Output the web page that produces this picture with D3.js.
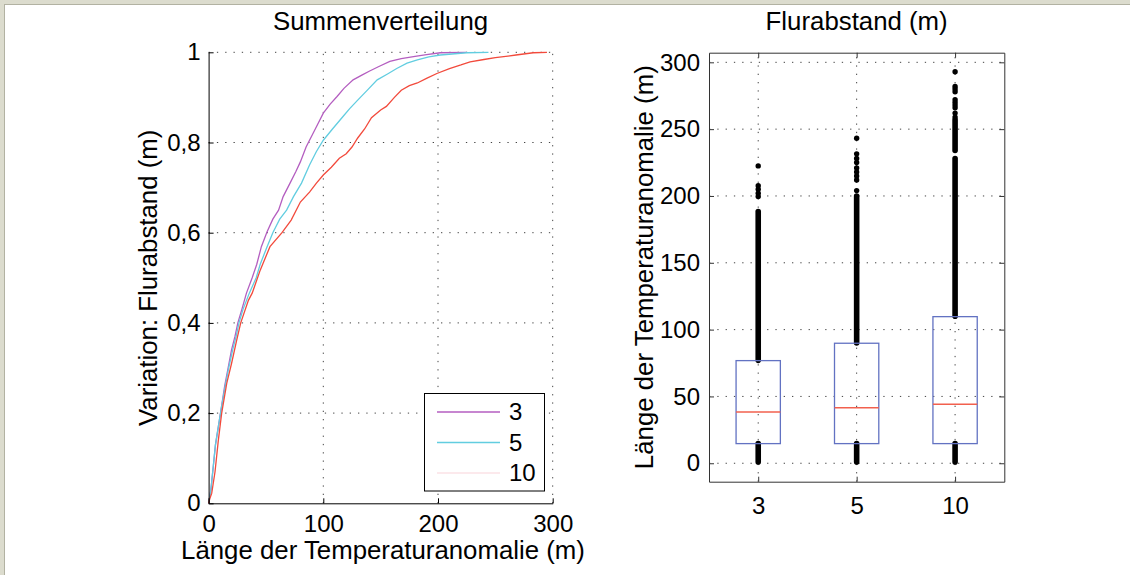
<!DOCTYPE html>
<html lang="de">
<head>
  <meta charset="UTF-8">
  <title>Summenverteilung / Flurabstand</title>
  <style>
    body { margin: 0; overflow: hidden; background: #dcdcce; }
    svg { display: block; font-family: "Liberation Sans", Arial, Helvetica, sans-serif; }
    .grid { stroke: #444; stroke-width: 1; stroke-dasharray: 1.3 7; fill: none; }
    .axis text { font-family: "Liberation Sans", Arial, sans-serif; font-size: 24px; fill: #000; }
    .axis-left path, .axis-left line { stroke: #000; }
    .axis-right path, .axis-right line { stroke: #333; }
    .title, .label { font-size: 25.8px; fill: #000; }
  </style>
</head>
<body>
  <script src="https://d3js.org/d3.v7.min.js"></script>
  <script>
    // --- Daten: Summenverteilung (Länge in m, kumulierter Anteil) ---
    const seriesNames = ["3", "5", "10"];
    const seriesColors = ["#b45ec0", "#62cde0", "#f24a3c"];
    const legendColors = ["#b45ec0", "#62cde0", "#fbe2e6"];

    const cdf3 = [
      [0, 0], [2, 0.03], [4, 0.08], [6, 0.13], [8.5, 0.17], [11, 0.21], [14, 0.26], [17, 0.3],
      [20, 0.34], [23, 0.37], [25.5, 0.4], [29, 0.43], [33, 0.466], [38, 0.5], [42, 0.53],
      [46, 0.569], [51, 0.602], [56, 0.63], [61, 0.65], [65, 0.68], [71, 0.71], [76, 0.735],
      [80, 0.757], [85, 0.79], [90, 0.815], [95, 0.84], [100, 0.865], [106, 0.885], [112, 0.902],
      [118, 0.92], [126, 0.939], [134, 0.95], [140, 0.958], [148, 0.968], [158, 0.98],
      [168, 0.986], [180, 0.991], [190, 0.995], [202, 0.999], [225, 1]
    ];
    const cdf5 = [
      [0, 0], [2, 0.03], [4, 0.08], [6, 0.13], [8.5, 0.17], [11, 0.21], [14.5, 0.26], [17.5, 0.3],
      [21, 0.34], [24, 0.37], [26.5, 0.4], [30, 0.43], [35.5, 0.466], [41.5, 0.5], [45, 0.53],
      [51, 0.569], [56, 0.6], [62, 0.63], [68, 0.65], [74, 0.68], [81, 0.71], [88, 0.75],
      [94, 0.78], [100, 0.805], [108, 0.83], [117, 0.857], [123, 0.875], [130, 0.894],
      [138, 0.915], [147, 0.939], [156, 0.952], [164, 0.964], [173, 0.976], [182, 0.983],
      [192, 0.99], [202, 0.994], [225, 0.999], [244, 1]
    ];
    const cdf10 = [
      [0, 0], [1, 0.01], [2.7, 0.022], [5.6, 0.07], [8.5, 0.14], [11.4, 0.2], [15.8, 0.266],
      [20, 0.31], [24.5, 0.362], [28, 0.4], [34.7, 0.45], [38, 0.466], [42, 0.495], [45, 0.517],
      [53.5, 0.569], [64, 0.6], [72, 0.628], [80, 0.668], [88, 0.69], [94, 0.71], [100, 0.728],
      [107, 0.745], [114, 0.765], [120, 0.775], [125, 0.79], [130, 0.81], [136, 0.83],
      [142, 0.855], [150, 0.872], [155, 0.88], [162, 0.9], [168, 0.916], [175, 0.926],
      [182, 0.932], [190, 0.942], [199, 0.953], [210, 0.964], [220, 0.972], [228, 0.979],
      [240, 0.984], [250, 0.988], [268, 0.994], [283, 0.999], [295, 1]
    ];
    const cdfSeries = [cdf3, cdf5, cdf10];

    const xTicksL = [0, 100, 200, 300];
    const yTicksL = [0, 0.2, 0.4, 0.6, 0.8, 1];

    // --- Daten: Boxplot ---
    const q1 = [14.7, 14.7, 14.7];
    const medians = [38.4, 41.6, 44.2];
    const q3 = [76.8, 89.8, 109.7];
    // dichte Ausreißerbereiche [von, bis]
    const outlierRuns = [
      [[1, 14.7], [77, 188.3]],
      [[1, 14.7], [90, 200]],
      [[1, 14.7], [110, 228], [234, 257]]
    ];
    const outlierPoints = [
      [199.6, 202, 205, 207.6, 222.5],
      [204, 212, 215, 218, 221, 225, 228, 231.5, 243.2],
      [259, 262, 266, 268, 270, 272, 278, 280, 282, 293]
    ];
    const yTicksR = [0, 50, 100, 150, 200, 250, 300];

    const width = 1130, height = 575;
    const svg = d3.select("body").append("svg").attr("width", width).attr("height", height);

    svg.append("rect").attr("width", width).attr("height", height).attr("fill", "#dcdcce");
    svg.append("rect").attr("x", 4.5).attr("y", 4.5).attr("width", width).attr("height", height)
      .attr("fill", "#fff").attr("stroke", "#b2b2a2");

    const de = d3.formatLocale({ decimal: ",", thousands: ".", grouping: [3], currency: ["", "€"] });
    const fmtDe = de.format(".1~f");

    // ================= linkes Diagramm =================
    const xL = d3.scaleLinear().domain([0, 300]).range([208.6, 552.7]);
    const yL = d3.scaleLinear().domain([0, 1]).range([503.3, 52.3]);
    const gL = svg.append("g");

    gL.append("g").selectAll("line").data(yTicksL.filter(v => v > 0)).join("line")
      .attr("class", "grid").attr("x1", xL(0)).attr("x2", xL(300))
      .attr("y1", d => yL(d)).attr("y2", d => yL(d));
    gL.append("g").selectAll("line").data(xTicksL.filter(v => v > 0)).join("line")
      .attr("class", "grid").attr("y1", yL(0)).attr("y2", yL(1))
      .attr("x1", d => xL(d)).attr("x2", d => xL(d));

    const line = d3.line().x(d => xL(d[0])).y(d => yL(d[1]));
    gL.append("g").selectAll("path").data(cdfSeries).join("path")
      .attr("d", line).attr("fill", "none")
      .attr("stroke", (d, i) => seriesColors[i]).attr("stroke-width", 1.3);

    const axLy = gL.append("g").attr("class", "axis axis-left")
      .attr("transform", `translate(${xL(0)},0)`)
      .call(d3.axisLeft(yL).tickValues(yTicksL).tickFormat(fmtDe).tickSizeInner(-5).tickSizeOuter(0).tickPadding(8));
    const axLx = gL.append("g").attr("class", "axis axis-left")
      .attr("transform", `translate(0,${yL(0)})`)
      .call(d3.axisBottom(xL).tickValues(xTicksL).tickSizeInner(-5).tickSizeOuter(0).tickPadding(12));
    [axLy, axLx].forEach(a => a.attr("font-size", null).attr("font-family", null));

    // Legende
    const lg = gL.append("g");
    lg.append("rect").attr("x", 424.5).attr("y", 393.5).attr("width", 120).attr("height", 97.5)
      .attr("fill", "#fff").attr("stroke", "#000");
    const legendY = d3.scalePoint().domain(seriesNames).range([412, 473]);
    lg.selectAll("line").data(seriesNames).join("line")
      .attr("x1", 437).attr("x2", 500)
      .attr("y1", d => legendY(d)).attr("y2", d => legendY(d))
      .attr("stroke", (d, i) => legendColors[i]).attr("stroke-width", 1.3);
    lg.selectAll("text").data(seriesNames).join("text")
      .attr("x", 509).attr("y", d => legendY(d)).attr("dy", "0.35em")
      .attr("font-size", 24).text(d => d);

    gL.append("text").attr("class", "title").attr("x", 380.6).attr("y", 30)
      .attr("text-anchor", "middle").text("Summenverteilung");
    gL.append("text").attr("class", "label").attr("x", 383).attr("y", 559)
      .attr("text-anchor", "middle").text("Länge der Temperaturanomalie (m)");
    gL.append("text").attr("class", "label")
      .attr("transform", `translate(157,${(yL(0) + yL(1)) / 2}) rotate(-90)`)
      .attr("text-anchor", "middle").text("Variation: Flurabstand (m)");

    // ================= rechtes Diagramm =================
    const xR = d3.scaleLinear().domain([0.5, 3.5]).range([709, 1004.3]);
    const yR = d3.scaleLinear().domain([-13.8, 307.2]).range([481.7, 52.7]);
    const gR = svg.append("g");
    const pos = seriesNames.map((d, i) => i + 1);

    gR.append("g").selectAll("line").data(yTicksR).join("line")
      .attr("class", "grid").attr("x1", xR(0.5)).attr("x2", xR(3.5))
      .attr("y1", d => yR(d)).attr("y2", d => yR(d));
    gR.append("g").selectAll("line").data(pos).join("line")
      .attr("class", "grid").attr("y1", yR(-13.8)).attr("y2", yR(307.2))
      .attr("x1", d => xR(d)).attr("x2", d => xR(d));

    const boxW = xR(1.45) - xR(1);
    const boxes = gR.append("g").selectAll("g").data(pos).join("g");

    boxes.each(function (p, i) {
      const g = d3.select(this);
      const cx = xR(p);
      g.selectAll("line.run").data(outlierRuns[i]).join("line").attr("class", "run")
        .attr("x1", cx).attr("x2", cx).attr("y1", d => yR(d[0])).attr("y2", d => yR(d[1]))
        .attr("stroke", "#000").attr("stroke-width", 5.6).attr("stroke-linecap", "round");
      g.selectAll("circle").data(outlierPoints[i]).join("circle")
        .attr("cx", cx).attr("cy", d => yR(d)).attr("r", 2.7).attr("fill", "#000");
      g.append("rect").attr("x", cx - boxW / 2).attr("y", yR(q3[i]))
        .attr("width", boxW).attr("height", yR(q1[i]) - yR(q3[i]))
        .attr("fill", "none").attr("stroke", "#6272c2").attr("stroke-width", 1.3);
      g.append("line").attr("x1", cx - boxW / 2).attr("x2", cx + boxW / 2)
        .attr("y1", yR(medians[i])).attr("y2", yR(medians[i]))
        .attr("stroke", "#f2604e").attr("stroke-width", 1.5);
    });

    const axRs = [
      gR.append("g").attr("class", "axis axis-right").attr("transform", `translate(${xR(0.5)},0)`)
        .call(d3.axisLeft(yR).tickValues(yTicksR).tickSizeInner(-5).tickSizeOuter(0).tickPadding(9)),
      gR.append("g").attr("class", "axis axis-right").attr("transform", `translate(${xR(3.5)},0)`)
        .call(d3.axisRight(yR).tickValues(yTicksR).tickFormat("").tickSizeInner(-5).tickSizeOuter(0)),
      gR.append("g").attr("class", "axis axis-right").attr("transform", `translate(0,${yR(-13.8)})`)
        .call(d3.axisBottom(xR).tickValues(pos).tickFormat(d => seriesNames[d - 1]).tickSizeInner(-5).tickSizeOuter(0).tickPadding(15)),
      gR.append("g").attr("class", "axis axis-right").attr("transform", `translate(0,${yR(307.2)})`)
        .call(d3.axisTop(xR).tickValues(pos).tickFormat("").tickSizeInner(-5).tickSizeOuter(0))
    ];
    axRs.forEach(a => a.attr("font-size", null).attr("font-family", null));

    gR.append("text").attr("class", "title").attr("x", (xR(0.5) + xR(3.5)) / 2).attr("y", 30)
      .attr("text-anchor", "middle").text("Flurabstand (m)");
    gR.append("text").attr("class", "label")
      .attr("transform", `translate(653,${(yR(-13.8) + yR(307.2)) / 2}) rotate(-90)`)
      .attr("text-anchor", "middle").text("Länge der Temperaturanomalie (m)");
  </script>
</body>
</html>
